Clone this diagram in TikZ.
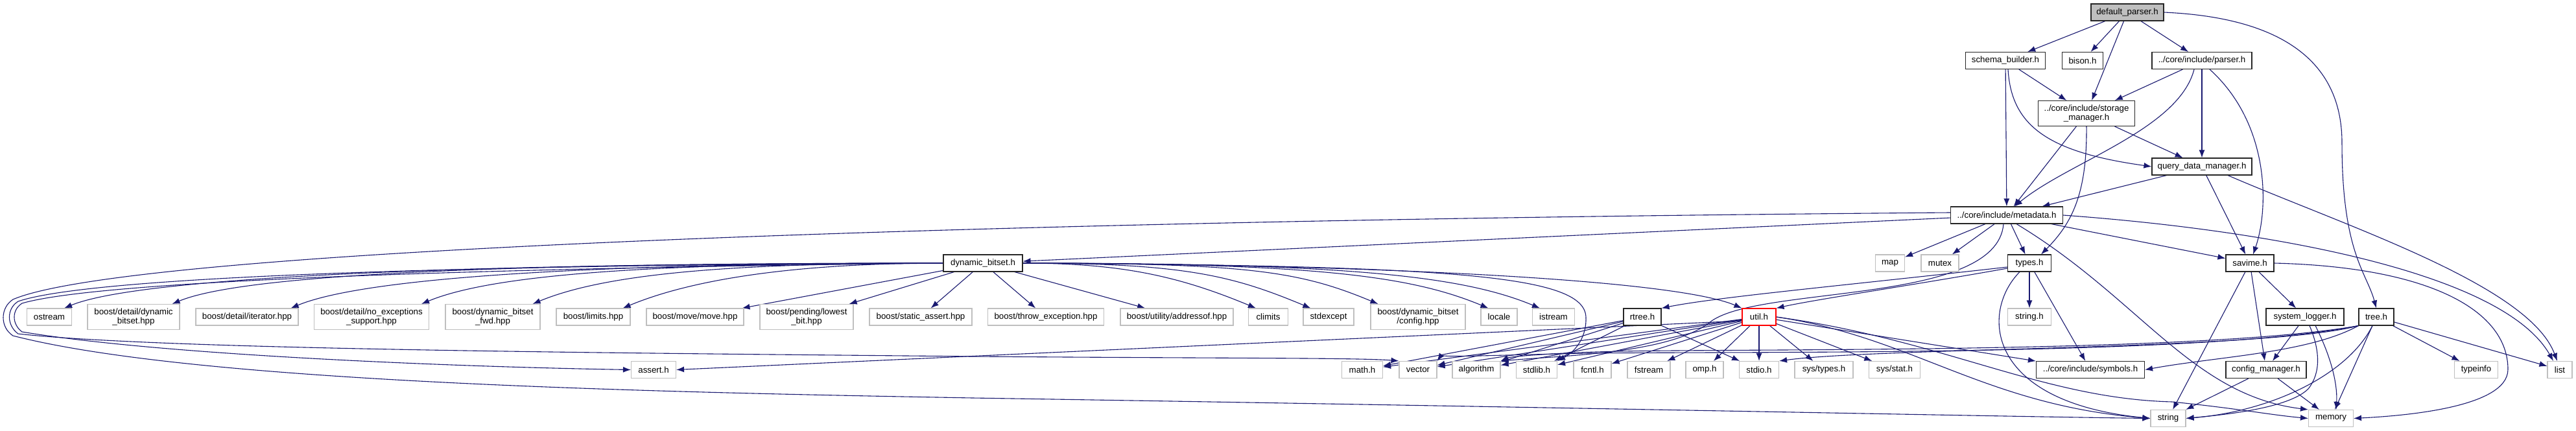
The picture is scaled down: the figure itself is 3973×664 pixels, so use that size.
\documentclass[tikz,border=0pt]{standalone}
\usepackage{fontspec}
\setmainfont{Liberation Sans}
\usetikzlibrary{arrows.meta,backgrounds}
\definecolor{incblue}{HTML}{191970}
\definecolor{boxgray}{HTML}{BFBFBF}
\newcommand{\hdrfont}{\fontsize{13.3}{14}\selectfont}
\tikzset{
 hdrbox/.style={draw=black!85,line width=1.1pt,fill=white,minimum height=26pt,inner sep=0pt,align=center,font=\hdrfont},
 sysbox/.style={hdrbox,draw=boxgray},
 redbox/.style={hdrbox,draw=red},
 rootbox/.style={hdrbox,fill=boxgray},
 twoline/.style={minimum height=39pt},
 inc/.style={draw=incblue,line width=1.1pt,-{Latex[length=12pt,width=9pt]}}
}
\begin{document}
\begin{tikzpicture}[x=1pt,y=-1pt]
\useasboundingbox (0,0) rectangle (3973,664);
\node[rootbox,minimum width=112pt] (dparser) at (3281,19) {default\_parser.h};
\node[hdrbox,minimum width=123pt] (schema) at (3093,93.5) {schema\_builder.h};
\node[hdrbox,minimum width=63pt] (bison) at (3212,93.5) {bison.h};
\node[hdrbox,minimum width=154pt] (parser) at (3396,93.5) {../core/include/parser.h};
\node[hdrbox,twoline,minimum width=149pt] (storage) at (3218,175) {../core/include/storage\\\_manager.h};
\node[hdrbox,minimum width=154pt] (querydm) at (3396,257) {query\_data\_manager.h};
\node[hdrbox,minimum width=173pt] (metadata) at (3095,332) {../core/include/metadata.h};
\node[hdrbox,minimum width=122pt] (dynbitset) at (1516,406) {dynamic\_bitset.h};
\node[sysbox,minimum width=45pt] (map) at (2915,406) {map};
\node[sysbox,minimum width=58pt] (mutex) at (2992,406) {mutex};
\node[hdrbox,minimum width=67pt] (types) at (3130,406) {types.h};
\node[hdrbox,minimum width=74pt] (savime) at (3470,406) {savime.h};
\node[sysbox,minimum width=69pt] (ostream) at (76,489) {ostream};
\node[sysbox,twoline,minimum width=142pt] (bdetaildyn) at (206,489) {boost/detail/dynamic\\\_bitset.hpp};
\node[sysbox,minimum width=158pt] (bdetailit) at (381,489) {boost/detail/iterator.hpp};
\node[sysbox,twoline,minimum width=177pt] (bdetailnoex) at (573,489) {boost/detail/no\_exceptions\\\_support.hpp};
\node[sysbox,twoline,minimum width=146pt] (bdynfwd) at (760,489) {boost/dynamic\_bitset\\\_fwd.hpp};
\node[sysbox,minimum width=114pt] (blimits) at (915,489) {boost/limits.hpp};
\node[sysbox,minimum width=150pt] (bmove) at (1072,489) {boost/move/move.hpp};
\node[sysbox,twoline,minimum width=144pt] (bpending) at (1244,489) {boost/pending/lowest\\\_bit.hpp};
\node[sysbox,minimum width=158pt] (bstatic) at (1420,489) {boost/static\_assert.hpp};
\node[sysbox,minimum width=179pt] (bthrow) at (1613,489) {boost/throw\_exception.hpp};
\node[sysbox,minimum width=174pt] (baddr) at (1815,489) {boost/utility/addressof.hpp};
\node[sysbox,minimum width=61pt] (climits) at (1956,489) {climits};
\node[sysbox,minimum width=78pt] (stdexcept) at (2049,489) {stdexcept};
\node[sysbox,twoline,minimum width=146pt] (bdynconfig) at (2187,489) {boost/dynamic\_bitset\\/config.hpp};
\node[sysbox,minimum width=56pt] (locale) at (2312,489) {locale};
\node[sysbox,minimum width=65pt] (istream) at (2396,489) {istream};
\node[hdrbox,minimum width=58pt] (rtree) at (2533,489) {rtree.h};
\node[redbox,minimum width=52pt] (util) at (2713,489) {util.h};
\node[sysbox,minimum width=67pt] (stringh) at (3130,489) {string.h};
\node[hdrbox,minimum width=120pt] (syslogger) at (3555,489) {system\_logger.h};
\node[hdrbox,minimum width=54pt] (tree) at (3665,489) {tree.h};
\node[sysbox,minimum width=69pt] (asserth) at (1008,570.5) {assert.h};
\node[sysbox,minimum width=63pt] (mathh) at (2101,570.5) {math.h};
\node[sysbox,minimum width=58pt] (vector) at (2187,570.5) {vector};
\node[sysbox,minimum width=74pt] (algorithm) at (2277,570.5) {algorithm};
\node[sysbox,minimum width=63pt] (stdlibh) at (2370,570.5) {stdlib.h};
\node[sysbox,minimum width=58pt] (fcntlh) at (2456,570.5) {fcntl.h};
\node[sysbox,minimum width=66pt] (fstream) at (2543,570.5) {fstream};
\node[sysbox,minimum width=58pt] (omph) at (2629,570.5) {omp.h};
\node[sysbox,minimum width=61pt] (stdioh) at (2713,570.5) {stdio.h};
\node[sysbox,minimum width=90pt] (systypes) at (2813,570.5) {sys/types.h};
\node[sysbox,minimum width=79pt] (sysstat) at (2922,570.5) {sys/stat.h};
\node[hdrbox,minimum width=167pt] (symbols) at (3224,570.5) {../core/include/symbols.h};
\node[hdrbox,minimum width=124pt] (configmgr) at (3495,570.5) {config\_manager.h};
\node[sysbox,minimum width=67pt] (typeinfo) at (3819,570.5) {typeinfo};
\node[sysbox,minimum width=38pt] (list) at (3948,570.5) {list};
\node[sysbox,minimum width=54pt] (string) at (3344,645.5) {string};
\node[sysbox,minimum width=69pt] (memory) at (3595,645.5) {memory};
\begin{scope}[on background layer]
\fill[white] (0,0) rectangle (3973,664);
\draw[inc] (dparser) -- (schema);
\draw[inc] (dparser) -- (bison);
\draw[inc] (dparser) -- (parser);
\draw[inc] (dparser) -- (storage);
\draw[inc] (dparser.east) .. controls (3540,28) and (3612,110) .. (3612,220) .. controls (3612,390) and (3650,420) .. (tree.north);
\draw[inc] (schema) -- (storage);
\draw[inc] (schema) -- (metadata);
\draw[inc] ([xshift=4pt]schema.south) .. controls (3102,195) and (3160,235) .. (querydm.west);
\draw[inc] (parser) -- (storage);
\draw[inc] ([xshift=-12pt]parser.south) .. controls (3360,200) and (3190,250) .. ([xshift=12pt]metadata.north);
\draw[inc] (parser) -- (querydm);
\draw[inc] ([xshift=12pt]parser.south) .. controls (3500,190) and (3500,320) .. ([xshift=5pt]savime.north);
\draw[inc] (storage) -- (metadata);
\draw[inc] (storage) -- (querydm);
\draw[inc] (storage.south) .. controls (3219,300) and (3195,345) .. ([xshift=18pt]types.north);
\draw[inc] (querydm) -- (metadata);
\draw[inc] (querydm) -- (savime);
\draw[inc] ([xshift=40pt]querydm.south) .. controls (3620,350) and (3900,440) .. ([xshift=-4pt]list.north);
\draw[inc] (metadata) -- (dynbitset);
\draw[inc] (metadata) -- (map);
\draw[inc] (metadata) -- (mutex);
\draw[inc] (metadata) -- (types);
\draw[inc] (metadata) -- (savime);
\draw[inc] (metadata.east) .. controls (3500,355) and (3860,420) .. ([xshift=-10pt]list.north);
\draw[inc] ([xshift=15pt]metadata.south) .. controls (3300,460) and (3380,610) .. (memory.north west);
\draw[inc] ([yshift=4pt]metadata.west) .. controls (1500,340) and (200,385) .. (20,462) .. controls (0,475) and (0,505) .. (20,518) .. controls (300,590) and (1000,605) .. (1500,614) .. controls (2500,630) and (3100,643) .. (string.west);
\draw[inc] ([xshift=-5pt]metadata.south) .. controls (3080,470) and (2720,440) .. (2640,495) .. controls (2580,545) and (2420,548) .. (algorithm.north east);
\foreach \t/\a in {ostream/700,bdetaildyn/600,bdetailit/500,bdetailnoex/400,bdynfwd/300,blimits/200}
 \draw[inc] (dynbitset.west) .. controls +(-\a,0) and +(120,-50) .. ([xshift=-12pt]\t.north east);
\foreach \t in {bmove,bpending,bstatic,bthrow,baddr}
 \draw[inc] (dynbitset) -- (\t);
\foreach \t/\a in {climits/150,stdexcept/250,bdynconfig/350,locale/450,istream/500}
 \draw[inc] (dynbitset.east) .. controls +(\a,0) and +(-120,-50) .. ([xshift=12pt]\t.north west);
\draw[inc] (dynbitset.east) .. controls (2100,408) and (2580,430) .. (util.north west);
\draw[inc] (dynbitset.east) .. controls (2250,410) and (2445,425) .. (2446,490) .. controls (2447,525) and (2425,545) .. (stdlibh.north east);
\draw[inc] (dynbitset.west) .. controls (900,408) and (160,420) .. (28,465) .. controls (10,476) and (10,502) .. (28,515) .. controls (250,540) and (1000,545) .. (1500,550) .. controls (1900,553) and (2100,552) .. (vector.north west);
\draw[inc] (dynbitset.west) .. controls (900,412) and (170,428) .. (34,468) .. controls (18,478) and (18,500) .. (34,512) .. controls (250,548) and (700,566) .. (asserth.west);
\draw[inc] ([yshift=-6pt]types.west) .. controls (2850,440) and (2650,458) .. (rtree.north east);
\draw[inc] ([yshift=-8pt]types.west) .. controls (2950,440) and (2800,462) .. (util.north east);
\draw[inc] (types) -- (stringh);
\draw[inc] (types) -- (symbols);
\draw[inc] ([xshift=-15pt]types.south) .. controls (3055,480) and (3060,620) .. (string.west);
\draw[inc] (savime) -- (syslogger);
\draw[inc] (savime) -- (configmgr);
\draw[inc] (savime) -- (string);
\draw[inc] (savime.east) .. controls (3750,412) and (3868,480) .. (3868,570) .. controls (3868,630) and (3700,642) .. (memory.east);
\draw[inc] (syslogger) -- (configmgr);
\draw[inc] ([xshift=7pt]syslogger.south) .. controls (3578,540) and (3580,575) .. (3560,600) .. controls (3530,630) and (3430,640) .. (string.east);
\draw[inc] ([xshift=16pt]syslogger.south) .. controls (3600,560) and (3605,600) .. ([xshift=8pt]memory.north);
\draw[inc] (configmgr) -- (string);
\draw[inc] (configmgr) -- (memory);
\draw[inc] (tree) -- (list);
\draw[inc] (tree) -- (typeinfo);
\draw[inc] (tree) -- (memory);
\draw[inc] ([xshift=-6pt]tree.south) .. controls (3620,580) and (3500,635) .. (string.east);
\draw[inc] (tree.south west) .. controls (3560,545) and (3420,550) .. (symbols.east);
\draw[inc] (tree.south west) .. controls (3500,540) and (2900,536) .. (stdioh.north east);
\draw[inc] (tree.south west) .. controls (3400,545) and (2700,538) .. (2500,542) .. controls (2400,544) and (2330,550) .. (algorithm.north east);
\draw[inc] (tree.south west) .. controls (3400,550) and (2700,542) .. (2450,545) .. controls (2300,548) and (2220,552) .. (vector.north east);
\foreach \t in {mathh,vector,algorithm,stdlibh,stdioh}
 \draw[inc] (rtree) -- (\t);
\foreach \t in {mathh,vector,algorithm,stdlibh,fcntlh,fstream,omph,stdioh,systypes,sysstat}
 \draw[inc] (util) -- (\t);
\draw[inc] ([yshift=-6pt]util.west) -- (asserth.east);
\draw[inc] (util) -- (symbols);
\draw[inc] (util.east) .. controls (2950,520) and (3060,625) .. (string.west);
\draw[inc] (util.east) .. controls (3000,525) and (3150,615) .. (3350,620) .. controls (3450,630) and (3500,640) .. (memory.west);
\end{scope}
\end{tikzpicture}
\end{document}
